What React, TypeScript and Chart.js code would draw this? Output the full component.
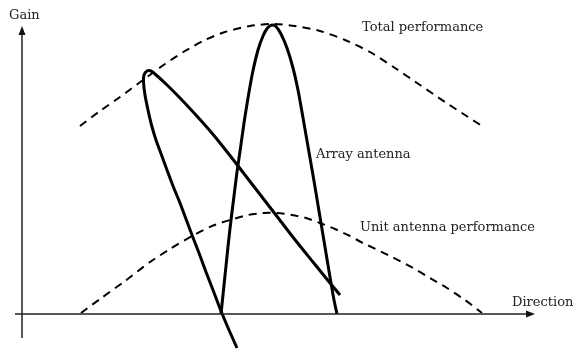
import React, { useEffect, useRef } from "react";
import { Chart, registerables } from "chart.js";

Chart.register(...registerables);

// Direction (x) and gain (y) in diagram units, origin at the axes crossing
const totalX = [58, 78, 98, 121, 143, 163, 183, 203, 228, 250, 273, 298, 323, 348, 373, 398, 423, 443, 463];
const totalY = [188, 203, 217, 234, 250, 263, 274, 282, 288, 290, 288, 283, 274, 262, 246, 229, 212, 199, 186];

const unitX = [59, 78, 103, 128, 148, 170, 190, 208, 226, 241, 255, 270, 284, 298, 313, 328, 341, 366, 391, 408, 425, 443, 460];
const unitY = [1, 15, 33, 52, 65, 78, 88, 94, 99, 101, 101, 99, 96, 91, 85, 78, 71, 59, 46, 36, 26, 14, 1];

const arrayX = [199, 201.5, 204, 206.5, 209, 212, 215, 218.5, 222, 226, 230.5, 236, 241, 245.5, 250, 254, 259, 265, 271, 276, 280, 284, 288, 292, 296, 300, 304, 308, 312, 315];
const arrayY = [0, 24, 48, 72, 94, 118, 142, 166, 191, 216, 241, 264, 278, 286, 289, 287.5, 280, 266, 246, 224, 202, 179, 156, 133, 109, 85, 61, 37, 14, 0];

const loopX = [215, 207, 199, 191, 184, 177, 170, 164, 158, 151, 145, 139.5, 134, 129.5, 126, 123, 121.5, 122, 125, 129, 133, 144, 158, 173, 189, 206, 223, 240, 257, 274, 291, 308, 318];
const loopY = [-34, -16, 3, 24, 42, 61, 79, 95, 111, 128, 144, 159, 174, 189, 204, 219, 232, 239, 243, 243, 240, 230, 216, 200, 182, 161, 139, 117, 95, 73, 52, 31, 19];

const axisLabels = ["Gain", "Direction"];
const curveLabels = ["Total performance", "Array antenna", "Unit antenna performance"];

const toPts = (xs: number[], ys: number[]) => xs.map((x, i) => ({ x, y: ys[i] }));

export default function App() {
  const ref = useRef<HTMLCanvasElement | null>(null);
  useEffect(() => {
    if (!ref.current) return;
    const overlay = {
      id: "overlay",
      afterDatasetsDraw(chart: any) {
        const ctx = chart.ctx;
        const xs = chart.scales.x;
        const ys = chart.scales.y;
        const px = (v: number) => xs.getPixelForValue(v);
        const py = (v: number) => ys.getPixelForValue(v);
        ctx.save();
        // axes
        ctx.strokeStyle = "#222";
        ctx.fillStyle = "#111";
        ctx.lineWidth = 1.5;
        ctx.beginPath();
        ctx.moveTo(px(0), py(-24));
        ctx.lineTo(px(0), py(280));
        ctx.moveTo(px(-7), py(0));
        ctx.lineTo(px(507), py(0));
        ctx.stroke();
        // arrowheads
        ctx.beginPath();
        ctx.moveTo(px(0), py(288));
        ctx.lineTo(px(0) - 3.5, py(279));
        ctx.lineTo(px(0) + 3.5, py(279));
        ctx.closePath();
        ctx.fill();
        ctx.beginPath();
        ctx.moveTo(px(513), py(0));
        ctx.lineTo(px(504), py(0) - 3.5);
        ctx.lineTo(px(504), py(0) + 3.5);
        ctx.closePath();
        ctx.fill();
        // labels
        ctx.fillStyle = "#222";
        ctx.font = "13px 'DejaVu Serif'";
        ctx.textBaseline = "middle";
        ctx.textAlign = "left";
        ctx.fillText(axisLabels[0], px(-13), py(298));
        ctx.fillText(axisLabels[1], px(490), py(11));
        ctx.fillText(curveLabels[0], px(340), py(286));
        ctx.fillText(curveLabels[1], px(294), py(159));
        ctx.fillText(curveLabels[2], px(338), py(86));
        ctx.restore();
      },
    };
    const common = { showLine: true, borderColor: "#000", pointRadius: 0, tension: 0.25 };
    const chart = new Chart(ref.current, {
      type: "scatter",
      data: {
        datasets: [
          { ...common, data: toPts(totalX, totalY), borderWidth: 2, borderDash: [8, 6] },
          { ...common, data: toPts(unitX, unitY), borderWidth: 2, borderDash: [8, 6] },
          { ...common, data: toPts(arrayX, arrayY), borderWidth: 3 },
          { ...common, data: toPts(loopX, loopY), borderWidth: 3 },
        ],
      } as any,
      options: {
        animation: false,
        responsive: false,
        devicePixelRatio: 1,
        layout: { padding: 0 },
        plugins: { legend: { display: false }, tooltip: { enabled: false } },
        scales: {
          x: { type: "linear", display: false, min: -22, max: 554 },
          y: { type: "linear", display: false, min: -35, max: 314 },
        },
      },
      plugins: [overlay],
    });
    return () => chart.destroy();
  }, []);
  return (
    <div style={{ position: "fixed", left: 0, top: 0, width: 576, height: 349, background: "#fff" }}>
      <canvas ref={ref} width={576} height={349} style={{ display: "block" }} />
    </div>
  );
}
